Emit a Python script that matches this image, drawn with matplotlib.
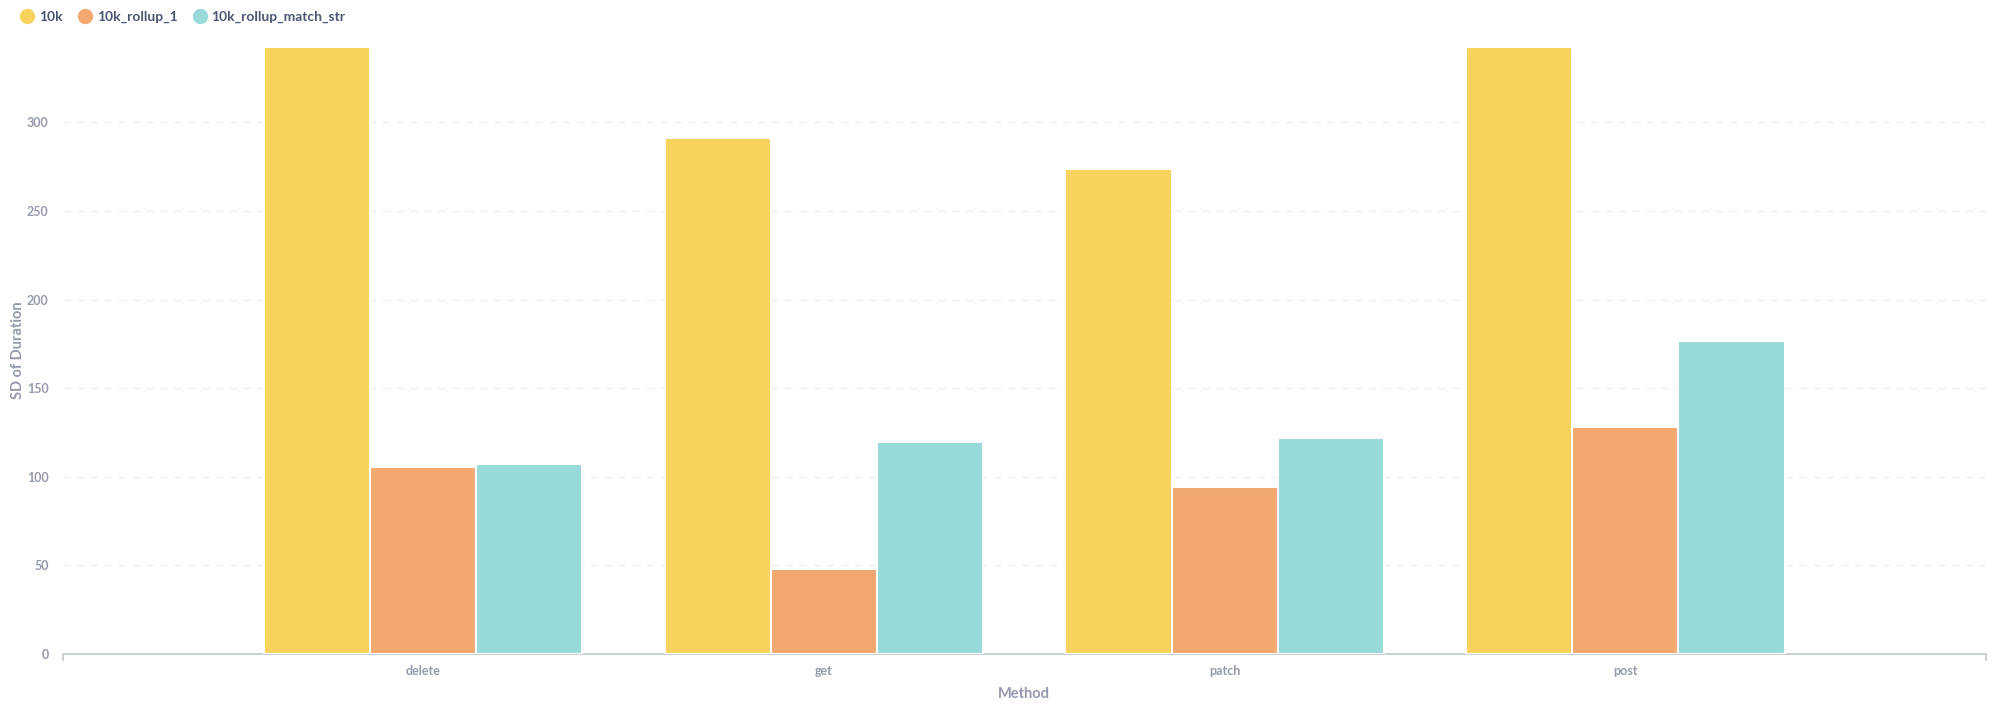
import matplotlib
matplotlib.use("Agg")
import matplotlib.pyplot as plt
from matplotlib.lines import Line2D
import numpy as np

plt.rcParams['font.family'] = ['Lato', 'DejaVu Sans']

categories = ["delete", "get", "patch", "post"]
series_names = ["10k", "10k_rollup_1", "10k_rollup_match_str"]
s_10k = [342.5, 291.2, 273.5, 342.5]
s_rollup_1 = [105.3, 47.8, 94.5, 128.3]
s_rollup_match = [107.1, 119.4, 121.6, 176.6]
yticks = [0, 50, 100, 150, 200, 250, 300]

colors = ["#F7D35E", "#F2A86F", "#98D9D9"]
tick_color = "#949AAB"
legend_text = "#4C5773"

fig = plt.figure(figsize=(20, 7.09), dpi=100)
ax = fig.add_axes([0.03125, 1 - 654/709, 0.993 - 0.03125, (654 - 47)/709])

x = np.arange(len(categories))
w = 0.265
for i, (vals, col) in enumerate(zip([s_10k, s_rollup_1, s_rollup_match], colors)):
    ax.bar(x + (i - 1) * w, vals, width=w, color=col, edgecolor="white",
           linewidth=1.5, zorder=3)

ax.set_xlim(-0.9, 3.9)
ax.set_ylim(0, 342.5)
ax.set_yticks(yticks)
ax.set_xticks(x)
ax.set_xticklabels(categories)
ax.set_xticks([-0.9, 3.9], minor=True)

for sp in ["top", "right", "left"]:
    ax.spines[sp].set_visible(False)
ax.spines["bottom"].set_color("#C6CAD3")
ax.spines["bottom"].set_linewidth(1.3)

ax.tick_params(axis="y", length=0, pad=10, labelsize=9, labelcolor=tick_color)
ax.tick_params(axis="x", which="major", length=0, pad=8, labelsize=9, labelcolor=tick_color)
ax.tick_params(axis="x", which="minor", length=5, color="#C6CAD3", width=1.3)
for lab in ax.get_xticklabels() + ax.get_yticklabels():
    lab.set_fontweight("bold")

ax.yaxis.grid(True, linestyle=(0, (5, 5)), color="#EEEEEE", linewidth=1, zorder=0)
ax.set_axisbelow(True)
gl = ax.get_ygridlines()
if gl:
    gl[0].set_visible(False)

ax.set_xlabel("Method", fontsize=10.5, fontweight="bold", color=tick_color, labelpad=7)
ax.set_ylabel("SD of Duration", fontsize=10.5, fontweight="bold", color=tick_color)
ax.yaxis.set_label_coords(-0.0195, 0.5)

handles = [Line2D([0], [0], marker="o", linestyle="none", markersize=10,
                  markerfacecolor=c, markeredgecolor=c) for c in colors]
leg = fig.legend(handles, series_names, loc="center left", bbox_to_anchor=(0.004, 0.976),
                 ncol=3, frameon=False, handletextpad=0.35, columnspacing=1.1,
                 handlelength=1.0, prop={"size": 10, "weight": "bold"})
for t in leg.get_texts():
    t.set_color(legend_text)

fig.savefig("out.png", dpi=100, facecolor="white")
